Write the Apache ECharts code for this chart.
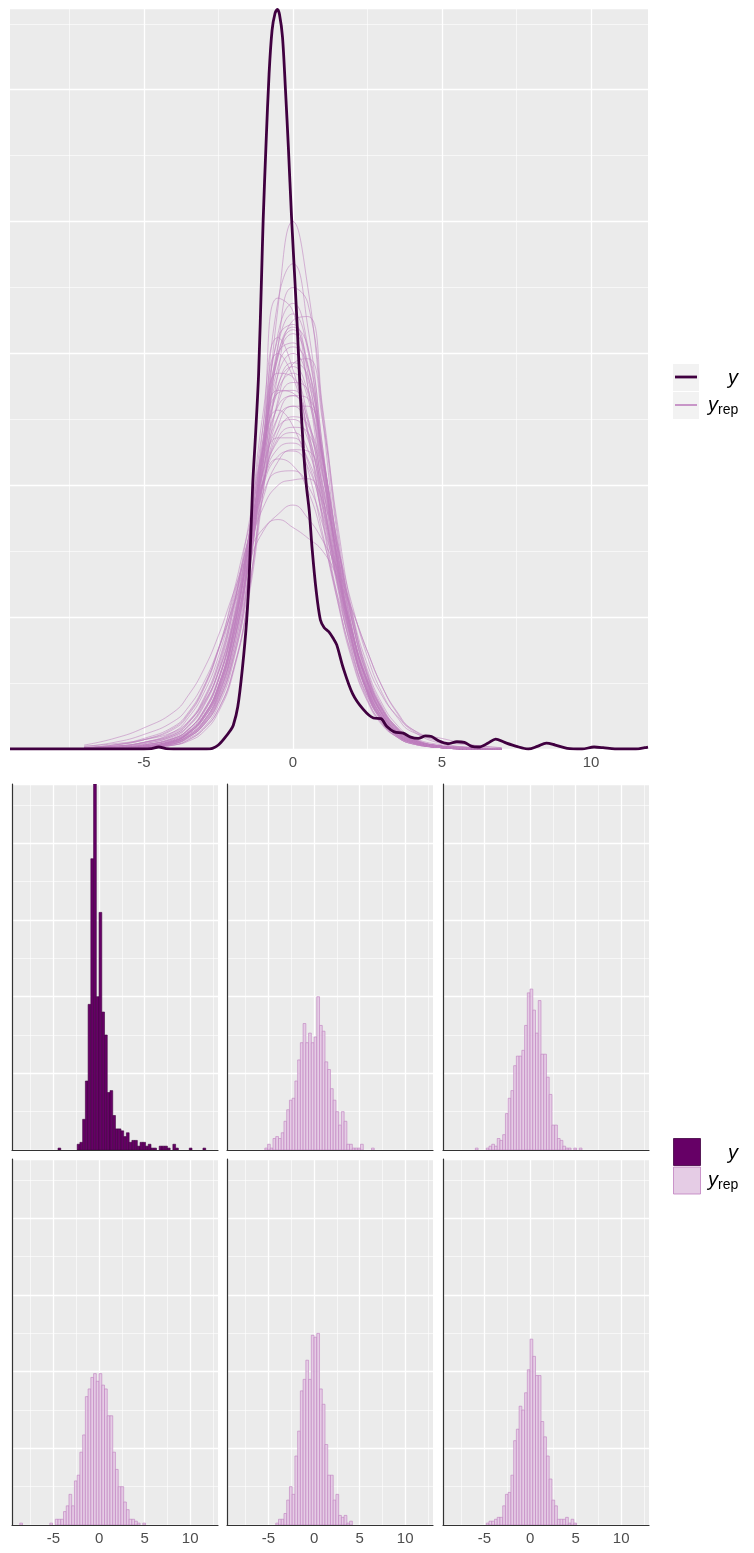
<!DOCTYPE html>
<html>
<head>
<meta charset="utf-8">
<script src="https://cdn.jsdelivr.net/npm/echarts@6/dist/echarts.min.js"></script>
<style>
  html, body { margin: 0; padding: 0; background: #fff; }
  #chart { width: 754px; height: 1553px; }
</style>
</head>
<body>
<div id="chart"></div>
<script>
// ---- data (density in thousandths, histogram in counts) ----
var xMajorTicks = [-5, 0, 5, 10];
var xMinorTicks = [-7.5, -2.5, 2.5, 7.5, 12.5];

// observed y density: [x, density]
var yObs = [[-9.49,0],[-5,0],[-4.75,0.3],[-4.5,1.5],[-4.25,0.3],[-4,0],[-2.9,0],[-2.7,0.5],[-2.5,3],[-2.3,8],
  [-2.1,14],[-2.0,18],[-1.85,32],[-1.7,60],[-1.55,98],[-1.45,140],[-1.35,200],[-1.25,240],[-1.15,285],[-1.05,360],
  [-1.0,400],[-0.9,460],[-0.8,512],[-0.7,545],[-0.6,558],[-0.52,561],[-0.45,557],[-0.35,540],[-0.25,500],[-0.15,455],
  [-0.05,405],[0.05,362],[0.15,318],[0.25,268],[0.35,228],[0.45,200],[0.55,180],[0.64,153],[0.78,120],[0.92,98],
  [1.05,92],[1.2,89],[1.35,84],[1.47,79],[1.68,62],[2.0,42],[2.36,30],[2.7,23.5],[2.95,23],[3.15,17],[3.4,13],
  [3.7,12],[3.95,9],[4.2,8],[4.45,10],[4.65,9.5],[4.9,6],[5.2,4],[5.5,5.5],[5.75,5],[6.0,2],[6.25,1.5],[6.55,4.5],
  [6.8,7.5],[7.1,5],[7.5,2],[7.9,0],[8.2,2],[8.5,4.5],[8.8,3],[9.2,0.5],[9.7,0],[10.1,1.5],[10.4,1],[10.8,0],
  [11.5,0],[11.8,1],[11.91,1.5]];

// replicated densities, sampled at densX
var densX = [-7,-6,-5,-4,-3.5,-3,-2.5,-2,-1.5,-1,-0.5,0,0.5,1,1.5,2,2.5,3,3.5,4,5,6,7];
var yrepDens = [
  [0,0,1,3,6,13,28,58,115,215,335,400,350,250,150,82,42,20,9,4,1,0,0],
  [0,0,1,4,8,16,33,66,128,232,340,368,320,228,140,80,42,21,10,5,1,0,0],
  [0,0,1,3,7,15,30,60,115,205,305,350,338,255,160,90,48,24,11,5,1,0,0],
  [0,0,1,5,10,19,38,74,140,245,342,332,275,195,125,72,38,19,9,4,1,0,0],
  [0,0,1,4,9,18,36,70,130,228,315,338,305,222,140,82,44,22,10,5,1,0,0],
  [0,0,1,3,7,15,30,60,112,195,285,325,328,258,165,96,52,26,12,6,1,0,0],
  [0,0,1,5,10,20,40,78,142,235,312,322,285,210,135,80,43,22,10,5,1,0,0],
  [0,0,1,5,10,20,40,78,140,228,300,318,292,220,142,85,47,24,11,5,1,0,0],
  [0,1,2,6,12,24,46,88,158,255,312,288,238,172,112,66,36,18,9,4,1,0,0],
  [0,0,1,5,10,21,41,79,138,220,290,305,290,225,150,90,50,26,12,6,1,0,0],
  [0,0,2,6,12,23,44,84,146,226,284,300,280,215,145,88,50,26,13,6,2,0,0],
  [0,0,1,4,9,18,35,68,120,195,265,292,296,248,170,102,57,30,15,7,2,0,0],
  [0,1,2,7,13,25,48,90,155,235,285,282,252,190,126,76,42,22,11,5,1,0,0],
  [0,0,2,7,13,25,48,90,150,222,272,285,266,208,142,88,50,27,13,6,2,0,0],
  [0,0,2,6,12,23,44,84,142,210,262,278,272,222,155,96,55,29,14,7,2,0,0],
  [0,1,2,7,14,27,52,96,158,228,270,272,248,192,130,80,45,24,12,6,2,0,0],
  [0,1,3,8,15,28,52,94,152,218,260,268,250,198,138,86,50,27,14,7,2,0,0],
  [0,0,2,6,12,24,46,85,138,200,245,260,260,218,156,100,58,32,16,8,2,0,0],
  [1,2,4,10,18,33,60,106,168,228,257,245,212,163,112,70,40,22,11,5,1,0,0],
  [0,1,3,9,17,32,58,100,156,212,244,250,235,190,135,87,51,28,14,7,2,0,0],
  [0,1,3,8,15,29,53,94,148,202,236,244,240,200,145,95,56,31,16,8,2,0,0],
  [1,2,5,11,20,37,64,108,160,210,236,236,218,176,125,80,47,26,13,6,2,0,0],
  [1,2,5,12,21,38,66,108,158,203,228,232,220,182,133,87,52,29,15,7,2,1,0],
  [0,1,4,10,18,34,58,96,144,190,218,227,226,195,147,99,60,34,18,9,3,1,0],
  [1,3,7,15,26,45,75,118,165,203,220,215,196,160,116,76,45,25,13,6,2,0,0],
  [1,3,7,16,27,46,76,115,158,194,210,211,200,170,128,86,52,30,16,8,2,1,0],
  [1,3,8,17,28,47,75,110,150,183,200,204,205,188,152,108,70,42,24,13,8,3,1],
  [2,5,11,21,32,50,76,108,140,165,178,185,175,158,136,105,74,47,27,14,4,1,0],
  [3,8,16,28,41,60,86,118,148,167,174,168,160,150,130,104,74,47,28,15,5,1,0],
  [0,0,2,6,13,25,47,88,150,222,276,290,270,210,142,87,49,26,13,6,2,0,0],
  [0,0,2,5,11,21,42,80,144,232,300,308,275,202,132,78,43,22,11,5,1,0,0],
  [0,0,1,4,9,18,36,70,128,220,306,330,302,220,138,80,43,22,10,5,1,0,0],
  [0,1,3,8,15,29,54,96,152,212,252,260,240,186,127,78,44,24,12,6,2,0,0],
  [1,2,5,11,20,36,63,104,155,203,234,240,227,185,134,86,51,28,14,7,2,1,0],
  [0,0,2,6,12,23,44,84,142,215,275,293,283,222,150,90,51,27,13,6,2,0,0],
  [0,0,2,6,13,25,48,88,140,204,252,268,266,220,155,96,55,30,15,7,2,0,0],
  [0,0,1,5,11,21,42,80,140,226,297,315,290,215,138,82,45,23,11,5,1,0,0],
  [0,1,3,8,15,28,52,92,144,200,240,252,246,207,152,102,64,40,25,15,6,3,1],
  [2,4,7,13,21,35,58,98,158,228,272,270,242,183,122,73,40,21,10,5,1,0,0],
  [1,2,5,13,24,42,70,112,158,200,222,226,214,178,131,87,53,30,16,8,2,1,0],
  [0,0,1,4,9,19,38,74,132,218,298,320,305,228,145,85,46,23,11,5,1,0,0],
  [0,1,2,6,12,24,46,88,156,245,300,282,240,175,115,68,37,19,9,4,1,0,0]
];

// histograms: first bin left edge + counts per bin
var binWidth = 0.3;
var histYStart = -4.5;
var histY = [1,0,0,0,0,0,0,3,4,16,36,76,152,191,80,124,72,60,30,31,18,11,11,10,7,9,4,5,5,2,4,4,
  2,3,1,1,0,2,2,2,1,0,3,1,0,0,0,0,1,0,0,0,0,1];
var histRep1Start = -5.4;
var histRep1 = [1,3,1,6,7,6,9,15,21,26,27,36,47,56,66,56,61,56,59,80,65,62,46,42,32,26,20,13,20,15,3,3,1,1,1,3,0,0,0,1];
var histRep2Start = -6.0;
var histRep2 = [1,0,0,0,1,2,3,2,6,5,8,19,27,31,44,49,49,52,65,82,84,73,61,78,50,50,38,29,13,13,6,5,2,1,1,0,1,0,1];
var histRep3Start = -8.7;
var histRep3 = [1,0,0,0,0,0,0,0,0,0,0,1,0,3,3,3,7,10,16,10,23,26,38,47,67,71,77,79,75,79,73,71,57,57,38,29,20,20,12,8,3,3,2,1,0,1];
var histRep4Start = -4.2;
var histRep4 = [1,3,3,6,13,20,16,36,49,70,76,86,76,99,98,100,71,63,42,26,26,13,16,5,4,5,1,2];
var histRep5Start = -4.8;
var histRep5 = [1,2,2,3,4,4,10,16,17,26,44,50,62,60,69,81,97,88,78,78,54,46,36,24,13,10,3,3,3,4,1,3,1];

// ---- chart ----
var chart = echarts.init(document.getElementById('chart'));
var FONT = '"Liberation Sans", Arial, sans-serif';
var grids = [], xAxes = [], yAxes = [], series = [];

function addPanel(rect, xr, yMax, yMajor, yMinor, showLabels, showLines) {
  var g = grids.length;
  grids.push({ left: rect[0], top: rect[1], width: rect[2], height: rect[3],
    show: true, backgroundColor: '#EBEBEB', borderWidth: 0 });
  var majors = xMajorTicks.filter(function (v) { return v > xr[0] && v < xr[1]; });
  var minors = xMinorTicks.filter(function (v) { return v > xr[0] && v < xr[1]; });
  var axLine = { show: showLines, onZero: false, lineStyle: { color: '#333333', width: 1.2 } };
  xAxes.push({ type: 'value', gridIndex: g, min: xr[0], max: xr[1],
    axisLine: axLine, axisTick: { show: false, customValues: majors },
    axisLabel: { show: showLabels, customValues: majors, color: '#4D4D4D', fontSize: 15, fontFamily: FONT, margin: 6 },
    splitLine: { show: true, lineStyle: { color: '#ffffff', width: 1.3 } } });
  xAxes.push({ type: 'value', gridIndex: g, min: xr[0], max: xr[1],
    axisLine: { show: false }, axisTick: { show: false, customValues: minors },
    axisLabel: { show: false, customValues: minors },
    splitLine: { show: true, lineStyle: { color: '#ffffff', width: 0.6 } } });
  yAxes.push({ type: 'value', gridIndex: g, min: 0, max: yMax, interval: yMajor,
    axisLine: axLine, axisTick: { show: false }, axisLabel: { show: false },
    splitLine: { show: true, lineStyle: { color: '#ffffff', width: 1.3 } } });
  yAxes.push({ type: 'value', gridIndex: g, min: 0, max: yMax, interval: yMinor,
    axisLine: { show: false }, axisTick: { show: false }, axisLabel: { show: false },
    splitLine: { show: true, lineStyle: { color: '#ffffff', width: 0.6 } } });
  return { x: xAxes.length - 2, y: yAxes.length - 2 };
}

// top: density overlay
var top = addPanel([10, 8, 638, 741], [-9.49, 11.91], 562, 100, 50, true, false);
yrepDens.forEach(function (vals) {
  series.push({ type: 'line', xAxisIndex: top.x, yAxisIndex: top.y, silent: true,
    data: densX.map(function (x, i) { return [x, vals[i]]; }),
    smooth: 0.5, symbol: 'none', z: 2,
    lineStyle: { color: '#bf7fbf', width: 0.8, opacity: 0.7 } });
});
series.push({ type: 'line', xAxisIndex: top.x, yAxisIndex: top.y, data: yObs,
  smooth: 0.3, symbol: 'none', z: 3, lineStyle: { color: '#400040', width: 2.8 } });

// bottom: histogram facets
function histSeries(ax, start, counts, fill, stroke) {
  var data = [];
  counts.forEach(function (c, i) {
    if (c > 0) data.push([start + i * binWidth, start + (i + 1) * binWidth, c]);
  });
  return { type: 'custom', xAxisIndex: ax.x, yAxisIndex: ax.y, data: data, clip: true,
    encode: { x: [0, 1], y: 2 },
    renderItem: function (params, api) {
      var p0 = api.coord([api.value(0), 0]);
      var p1 = api.coord([api.value(1), api.value(2)]);
      return { type: 'rect',
        shape: { x: p0[0], y: p1[1], width: p1[0] - p0[0], height: p0[1] - p1[1] },
        style: { fill: fill, stroke: stroke, lineWidth: 0.6 } };
    } };
}

var cols = [12, 227, 443], rows = [784, 1159];
var hists = [
  [histYStart, histY, '#660066', '#400040'],
  [histRep1Start, histRep1, '#e5cce5', '#bf7fbf'],
  [histRep2Start, histRep2, '#e5cce5', '#bf7fbf'],
  [histRep3Start, histRep3, '#e5cce5', '#bf7fbf'],
  [histRep4Start, histRep4, '#e5cce5', '#bf7fbf'],
  [histRep5Start, histRep5, '#e5cce5', '#bf7fbf']
];
hists.forEach(function (h, k) {
  var r = Math.floor(k / 3), c = k % 3;
  var ax = addPanel([cols[c], rows[r], 206, 366], [-9.55, 13.05], 191, 40, 20, r === 1, true);
  series.push(histSeries(ax, h[0], h[1], h[2], h[3]));
});

// legends
function legendText(x, y, txt, size, italic, align) {
  return { type: 'text', x: x, y: y, silent: true,
    style: { text: txt, fill: '#000', fontSize: size, fontFamily: FONT,
      fontStyle: italic ? 'italic' : 'normal', align: align, verticalAlign: 'middle' } };
}
var graphics = [
  { type: 'rect', shape: { x: 673, y: 364, width: 26, height: 27 }, style: { fill: '#F2F2F2' } },
  { type: 'rect', shape: { x: 673, y: 392, width: 26, height: 27 }, style: { fill: '#F2F2F2' } },
  { type: 'line', shape: { x1: 675, y1: 377, x2: 697, y2: 377 }, style: { stroke: '#400040', lineWidth: 2.8 } },
  { type: 'line', shape: { x1: 675, y1: 405, x2: 697, y2: 405 }, style: { stroke: '#c896c8', lineWidth: 2 } },
  legendText(738, 378, 'y', 20, true, 'right'),
  legendText(718, 405, 'y', 20, true, 'right'),
  legendText(718, 410, 'rep', 14, false, 'left'),
  { type: 'rect', shape: { x: 673.5, y: 1138.5, width: 27, height: 27 }, style: { fill: '#660066', stroke: '#400040', lineWidth: 0.8 } },
  { type: 'rect', shape: { x: 673.5, y: 1167, width: 27, height: 27 }, style: { fill: '#e5cce5', stroke: '#bf7fbf', lineWidth: 0.8 } },
  legendText(738, 1153, 'y', 20, true, 'right'),
  legendText(718, 1180, 'y', 20, true, 'right'),
  legendText(718, 1185, 'rep', 14, false, 'left')
];

chart.setOption({
  animation: false,
  backgroundColor: '#ffffff',
  grid: grids,
  xAxis: xAxes,
  yAxis: yAxes,
  series: series,
  graphic: graphics
});

window.onresize = function () { chart.resize(); };
</script>
</body>
</html>
